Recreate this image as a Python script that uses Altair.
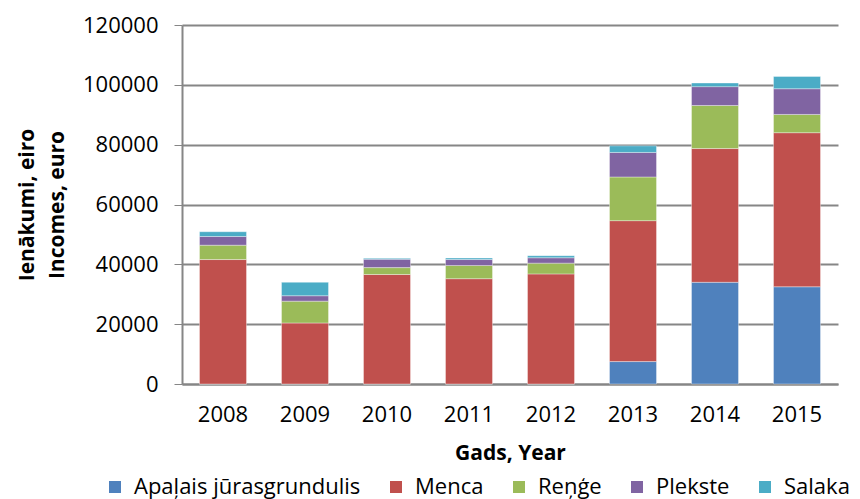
import altair as alt
import pandas as pd

years = ["2008", "2009", "2010", "2011", "2012", "2013", "2014", "2015"]
species = ["Apaļais jūrasgrundulis", "Menca", "Reņģe", "Plekste", "Salaka"]
colors = ["#4F81BD", "#C0504D", "#9BBB59", "#8064A2", "#4BACC6"]

apalais = [0, 0, 0, 0, 0, 7500, 34000, 32500]
menca = [41600, 20400, 36600, 35200, 36800, 47100, 44700, 51500]
renge = [4800, 7300, 2300, 4400, 3600, 14600, 14400, 6100]
plekste = [2900, 1800, 2800, 2000, 1800, 8200, 6300, 8600]
salaka = [1600, 4500, 300, 500, 700, 2200, 1200, 4100]

series = [apalais, menca, renge, plekste, salaka]
rows = []
for si, (name, vals) in enumerate(zip(species, series)):
    for y, v in zip(years, vals):
        rows.append({"year": y, "species": name, "value": v, "ord": si})
df = pd.DataFrame(rows)

FONT = "Open Sans"

chart = alt.Chart(df).mark_bar(stroke="white", strokeWidth=0.6, strokeOpacity=0.6).encode(
    x=alt.X("year:N", sort=years,
            scale=alt.Scale(paddingInner=0.427, paddingOuter=0.2135),
            axis=alt.Axis(title="Gads, Year", labelAngle=0, tickSize=0, labelPadding=20,
                          titlePadding=17, domainColor="#868686", domainWidth=2)),
    y=alt.Y("value:Q", stack="zero",
            scale=alt.Scale(domain=[0, 120000], nice=False),
            axis=alt.Axis(title=["Ienākumi, eiro", "Incomes, euro"], values=list(range(0, 120001, 20000)),
                          format="d", tickSize=8, tickColor="#868686", labelPadding=16,
                          gridColor="#868686", gridWidth=2, domainColor="#868686", domainWidth=2,
                          titlePadding=15, titleLineHeight=30)),
    color=alt.Color("species:N", sort=species,
                    scale=alt.Scale(domain=species, range=colors),
                    legend=alt.Legend(title=None, orient="none", direction="horizontal",
                                      legendX=-78, legendY=451, symbolType="square",
                                      symbolSize=144, symbolStrokeWidth=0, columnPadding=24,
                                      labelOffset=8, labelLimit=0,
                                      labelFontSize=22, labelFont=FONT, labelColor="black",
                                      symbolOpacity=1)),
    order=alt.Order("ord:Q", sort="ascending"),
).properties(
    width=656, height=359,
    padding={"left": 174, "top": 17, "right": 14, "bottom": 122},
    autosize=alt.AutoSizeParams(type="none"),
).configure_axis(
    labelFont=FONT, labelFontSize=22, labelColor="black",
    titleFont=FONT, titleFontSize=21, titleFontWeight="bold", titleColor="black",
).configure_view(stroke=None)

chart.save("out.html", embed_options={"renderer": "svg", "actions": False})
